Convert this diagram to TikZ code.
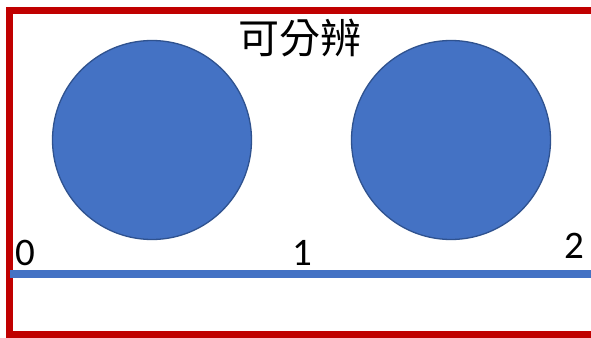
\documentclass[tikz,border=0pt]{standalone}
\usepackage{fontspec}
\setmainfont{Carlito}
\newfontfamily\cjk{Noto Sans CJK TC}
\definecolor{bordred}{HTML}{C00000}
\definecolor{discfill}{HTML}{4472C4}
\definecolor{discedge}{HTML}{2F528F}
\tikzset{
  disc/.style={circle, fill=discfill, draw=discedge, line width=1.3pt, minimum size=199pt, inner sep=0pt},
  frame/.style={bordred, line width=7pt},
  axis/.style={discfill, line width=8pt},
  tick/.style={inner sep=0pt, font=\fontsize{39}{44}\selectfont},
  title/.style={inner sep=0pt, font=\cjk\fontsize{41}{46}\selectfont}
}
\begin{document}
\begin{tikzpicture}[x=1pt,y=-1pt]
\useasboundingbox (0,0) rectangle (591,337);
\clip (0,0) rectangle (591,337);
\fill[white] (0,0) rectangle (591,337);
\draw[frame] (620,10.5) -- (9.5,10.5) -- (9.5,334) -- (620,334);
\node[disc] (c1) at (152,140) {};
\node[disc] (c2) at (451,140) {};
\node[title] (t) at (300,38) {可分辨};
\coordinate (a0) at (9.5,274);
\coordinate (a1) at (600,274);
\draw[axis] (a0) -- (a1);
\node[tick] (n0) at (25,253) {0};
\node[tick] (n1) at (302,253) {1};
\node[tick] (n2) at (574,246) {2};
\end{tikzpicture}
\end{document}
